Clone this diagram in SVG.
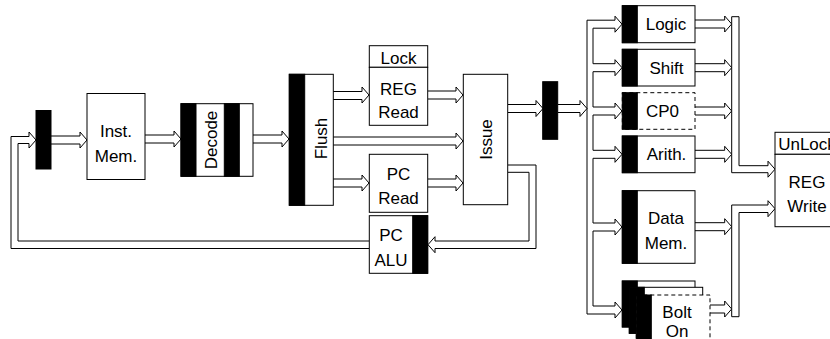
<svg xmlns="http://www.w3.org/2000/svg" width="830" height="339" viewBox="0 0 830 339">
<style>
.box{fill:#fff;stroke:#000;stroke-width:1}
.dash{fill:#fff;stroke:#000;stroke-width:1;stroke-dasharray:4,3}
.blk{fill:#000;stroke:#000;stroke-width:1}
.ln{fill:none;stroke:#000;stroke-width:1}
.ar{fill:#fff;stroke:#000;stroke-width:1}
text{font-family:"Liberation Sans",Arial,sans-serif;font-size:17px;fill:#000;text-anchor:middle}
</style>
<rect width="830" height="339" fill="#fff"/>
<g id="connectors">
<!-- loop from Issue to PC ALU -->
<path class="ln" d="M508,165 H536 V248.5 H435 V252.7 L428,244.7 L435,236.7 V241 H529 V172.3 H508"/>
<!-- loop from PC ALU back to input latch -->
<path class="ln" d="M369,248.5 H11 V136.5 H29 V132 L36,140 L29,148 V143.5 H18 V241 H369"/>
<!-- straight hollow arrows -->
<path class="ar" d="M51,136 H80 V132 L87,140 L80,148 V144 H51"/>
<path class="ar" d="M145,135 H174 V131 L181,139 L174,147 V143 H145"/>
<path class="ar" d="M253,135 H282 V131 L289,139 L282,147 V143 H253"/>
<path class="ar" d="M333,91.5 H362 V87 L369,95 L362,103 V99.5 H333"/>
<path class="ar" d="M333,137 H456 V133 L463,141 L456,149 V145 H333"/>
<path class="ar" d="M333,179 H362 V175 L369,183 L362,191 V187 H333"/>
<path class="ar" d="M428,91 H456 V87 L463,95 L456,103 V99 H428"/>
<path class="ar" d="M428,179 H456 V175 L463,183 L456,191 V187 H428"/>
<path class="ar" d="M508,104.5 H536 V100.5 L543,108.5 L536,116.5 V112.5 H508"/>
<path class="ar" d="M558,104.5 H580 V100.5 L587,108.5 L580,116.5 V112.5 H558"/>
<!-- left bus -->
<path class="ln" d="M593,20.2 H587 V314 H593"/>
<path class="ln" d="M593,28.2 V63.7 M593,71.7 V107 M593,115 V150.3 M593,158.3 V223 M593,231 V306"/>
<path class="ar" d="M593,20.2 H615 V16.2 L622,24.2 L615,32.2 V28.2 H593"/>
<path class="ar" d="M593,63.7 H615 V59.7 L622,67.7 L615,75.7 V71.7 H593"/>
<path class="ar" d="M593,107 H615 V103 L622,111 L615,119 V115 H593"/>
<path class="ar" d="M593,150.3 H615 V146.3 L622,154.3 L615,162.3 V158.3 H593"/>
<path class="ar" d="M593,223 H615 V219 L622,227 L615,235 V231 H593"/>
<path class="ar" d="M593,306 H615 V302 L622,310 L615,318 V314 H593"/>
<!-- outputs to right bus -->
<path class="ar" d="M695,20 H724.7 V16 L731.7,24 L724.7,32 V28 H695"/>
<path class="ar" d="M695,63.7 H724.7 V59.7 L731.7,67.7 L724.7,75.7 V71.7 H695"/>
<path class="ar" d="M695,107 H724.7 V103 L731.7,111 L724.7,119 V115 H695"/>
<path class="ar" d="M695,150.3 H724.7 V146.3 L731.7,154.3 L724.7,162.3 V158.3 H695"/>
<path class="ar" d="M695,222.7 H724.7 V218.7 L731.7,226.7 L724.7,234.7 V230.7 H695"/>
<path class="ar" d="M710,305 H724.7 V301 L731.7,309 L724.7,317 V313 H710"/>
<!-- right buses into REG Write -->
<path class="ar" d="M731.7,172.7 V16.7 H739 V165.7 H768 V161.2 L775,169.2 L768,177.2 V172.7 Z"/>
<path class="ar" d="M731.7,316.7 V205 H768 V200.7 L775,208.7 L768,216.7 V212.5 H739 V316.7 Z"/>
</g>
<g id="latch-in"><rect class="blk" x="36" y="110.5" width="15" height="58.5"/></g>
<g id="inst-mem"><rect class="box" x="87" y="93.5" width="58" height="86"/><text x="116" y="136.7">Inst.</text><text x="116" y="161.7">Mem.</text></g>
<g id="decode"><rect class="box" x="181" y="103.7" width="72" height="72.6"/><rect class="blk" x="181" y="103.7" width="15" height="72.6"/><rect class="blk" x="224.3" y="103.7" width="15" height="72.6"/><text transform="translate(216.5,140) rotate(-90)">Decode</text></g>
<g id="flush"><rect class="box" x="289.3" y="74.3" width="44" height="131"/><rect class="blk" x="289.3" y="74.3" width="15.4" height="131"/><text transform="translate(326.5,138.5) rotate(-90)">Flush</text></g>
<g id="reg-read"><rect class="box" x="369.3" y="45.7" width="58.4" height="21.6"/><text x="398.5" y="64">Lock</text><rect class="box" x="369.3" y="67.3" width="58.4" height="58"/><text x="398.5" y="94.5">REG</text><text x="398.5" y="118">Read</text></g>
<g id="pc-read"><rect class="box" x="369.3" y="154.3" width="58.4" height="58"/><text x="398.5" y="179.5">PC</text><text x="398.5" y="204">Read</text></g>
<g id="pc-alu"><rect class="box" x="369.3" y="215.7" width="58.4" height="57.6"/><rect class="blk" x="412.7" y="215.7" width="15" height="57.6"/><text x="391" y="241">PC</text><text x="391" y="266">ALU</text></g>
<g id="issue"><rect class="box" x="463.3" y="74.3" width="44.4" height="130.4"/><text transform="translate(491.5,139.5) rotate(-90)">Issue</text></g>
<g id="latch-issue"><rect class="blk" x="542.7" y="81.7" width="15" height="57.6"/></g>
<g id="logic"><rect class="box" x="622.3" y="5.7" width="72.7" height="37"/><rect class="blk" x="622.3" y="5.7" width="15" height="37"/><text x="666" y="30.3">Logic</text></g>
<g id="shift"><rect class="box" x="622.3" y="49.3" width="72.7" height="36.7"/><rect class="blk" x="622.3" y="49.3" width="15" height="36.7"/><text x="666.5" y="73.7">Shift</text></g>
<g id="cp0"><rect class="dash" x="622.3" y="92.7" width="72.7" height="36.6"/><rect class="blk" x="622.3" y="92.7" width="15" height="36.6"/><text x="662.5" y="117">CP0</text></g>
<g id="arith"><rect class="box" x="622.3" y="136" width="72.7" height="36.7"/><rect class="blk" x="622.3" y="136" width="15" height="36.7"/><text x="666.5" y="160.3">Arith.</text></g>
<g id="data-mem"><rect class="box" x="622.3" y="190.7" width="72.7" height="72.6"/><rect class="blk" x="622.3" y="190.7" width="15" height="72.6"/><text x="666" y="223.7">Data</text><text x="666" y="249.3">Mem.</text></g>
<g id="bolt-on">
<rect class="box" x="622.3" y="281" width="72.7" height="46"/><rect class="blk" x="622.3" y="281" width="15" height="46"/>
<rect class="box" x="629.3" y="287.3" width="73.4" height="46"/><rect class="blk" x="629.3" y="287.3" width="15" height="46"/>
<rect class="dash" x="636.3" y="295" width="73.7" height="46"/><rect class="blk" x="636.3" y="295" width="15" height="46"/>
<text x="677" y="317.7">Bolt</text><text x="677" y="336.7">On</text></g>
<g id="reg-write"><rect class="box" x="775" y="132.3" width="64" height="22"/><text x="807" y="149.5">UnLock</text><rect class="box" x="775" y="154.3" width="64" height="72.4"/><text x="807" y="187.7">REG</text><text x="807" y="212">Write</text></g>
</svg>
